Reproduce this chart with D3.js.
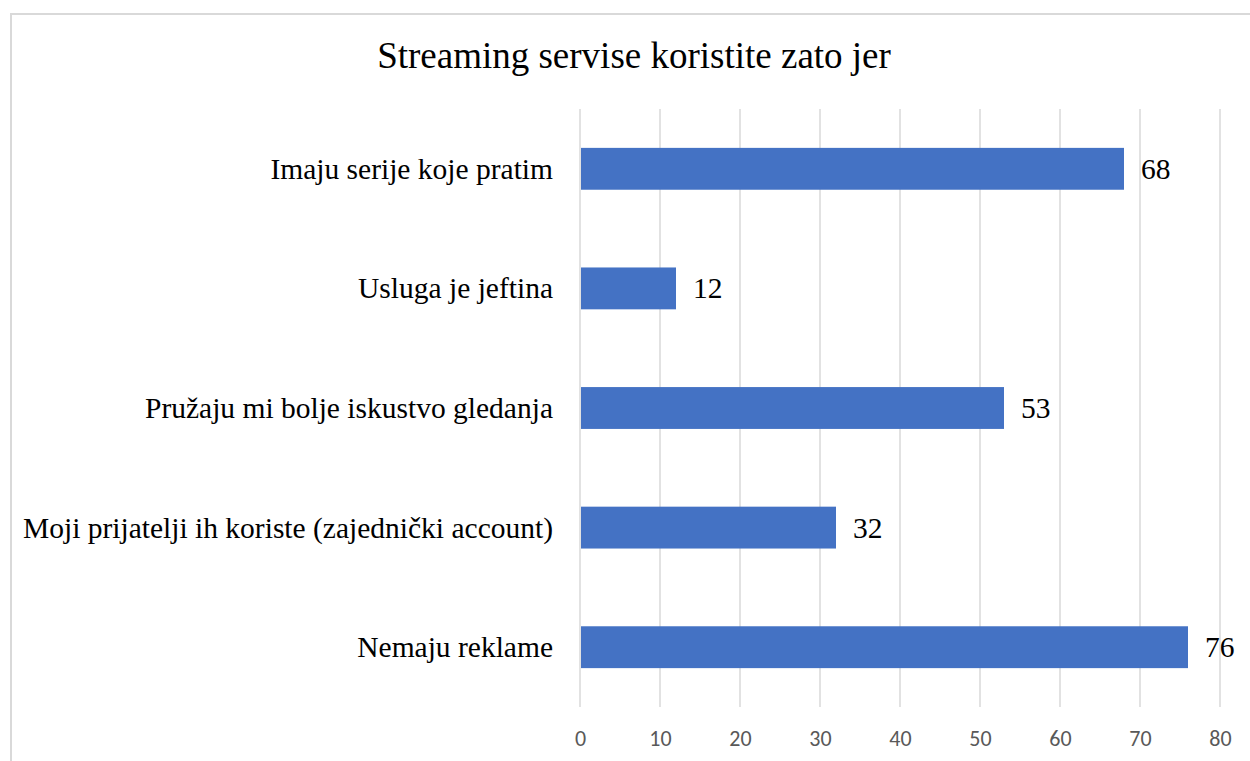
<!DOCTYPE html>
<html lang="en">
<head>
    <meta charset="utf-8">
    <title>Streaming servise koristite zato jer</title>
    <script src="https://d3js.org/d3.v7.min.js"></script>
    <style>
        body { margin: 0; background: #fff; }
    </style>
</head>
<body>
    <div id="chart"></div>
    <script type="text/javascript">
        // Chart data
        var categories = [
            'Imaju serije koje pratim',
            'Usluga je jeftina',
            'Pružaju mi bolje iskustvo gledanja',
            'Moji prijatelji ih koriste (zajednički account)',
            'Nemaju reklame'
        ];
        var values = [68, 12, 53, 32, 76];
        var xTicks = [0, 10, 20, 30, 40, 50, 60, 70, 80];

        var width = 1250, height = 761;
        var serif = '"Liberation Serif", "Times New Roman", serif';

        var svg = d3.select('#chart').append('svg')
            .attr('width', width)
            .attr('height', height);

        // chart frame (only left and top edges are visible in the crop)
        svg.append('path')
            .attr('d', 'M11,' + height + 'V14H' + width)
            .attr('fill', 'none')
            .attr('stroke', '#d9d9d9')
            .attr('stroke-width', 2);

        // title
        svg.append('text')
            .attr('x', 634)
            .attr('y', 68)
            .attr('text-anchor', 'middle')
            .attr('font-family', serif)
            .attr('font-size', '37px')
            .attr('fill', '#000')
            .text('Streaming servise koristite zato jer');

        var x = d3.scaleLinear().domain([0, 80]).range([580, 1220]);
        var y = d3.scaleBand().domain(categories).range([109, 707]).paddingInner(0.65).paddingOuter(0.325);

        // gridlines
        svg.append('g').selectAll('line')
            .data(xTicks)
            .enter().append('line')
            .attr('x1', function (d) { return x(d); })
            .attr('x2', function (d) { return x(d); })
            .attr('y1', 109)
            .attr('y2', 707)
            .attr('stroke', '#d9d9d9')
            .attr('stroke-width', 1.5);

        // tick labels
        var xAxis = svg.append('g')
            .attr('transform', 'translate(0,' + 707 + ')')
            .call(d3.axisBottom(x).tickValues(xTicks).tickSize(0).tickPadding(23));
        xAxis.select('.domain').remove();
        xAxis.selectAll('text')
            .attr('font-family', 'Carlito, "Open Sans", "Liberation Sans", sans-serif')
            .attr('font-size', '22px')
            .attr('fill', '#595959');

        // bars
        svg.append('g').selectAll('rect')
            .data(values)
            .enter().append('rect')
            .attr('x', x(0) + 1)
            .attr('y', function (d, i) { return y(categories[i]); })
            .attr('width', function (d) { return x(d) - x(0) - 1; })
            .attr('height', y.bandwidth())
            .attr('fill', '#4472c4');

        // category labels
        svg.append('g').selectAll('text')
            .data(categories)
            .enter().append('text')
            .attr('x', 553)
            .attr('y', function (d) { return y(d) + y.bandwidth() / 2; })
            .attr('dy', '0.34em')
            .attr('text-anchor', 'end')
            .attr('font-family', serif)
            .attr('font-size', '29.5px')
            .attr('fill', '#000')
            .text(function (d) { return d; });

        // value labels
        svg.append('g').selectAll('text')
            .data(values)
            .enter().append('text')
            .attr('x', function (d) { return x(d) + 17; })
            .attr('y', function (d, i) { return y(categories[i]) + y.bandwidth() / 2; })
            .attr('dy', '0.34em')
            .attr('font-family', serif)
            .attr('font-size', '29.5px')
            .attr('fill', '#000')
            .text(function (d) { return d; });
    </script>
</body>
</html>
